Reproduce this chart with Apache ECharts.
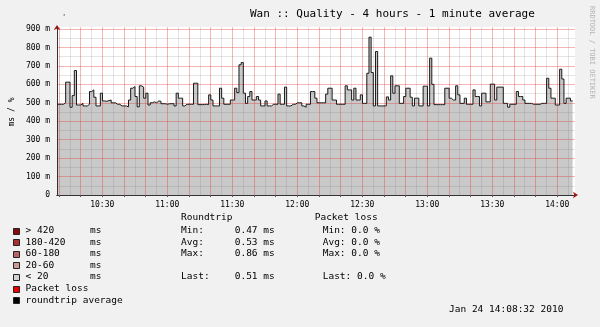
<!DOCTYPE html>
<html><head><meta charset="utf-8">
<script src="https://cdn.jsdelivr.net/npm/echarts@6/dist/echarts.min.js"></script>
<style>html,body{margin:0;padding:0;background:#f1f1f1}#c{width:600px;height:327px}</style>
</head><body><div id="c"></div>
<script>
// ---------- data ----------
const chartTitle = 'Wan :: Quality - 4 hours - 1 minute average';
const startMinute = 609.1;   // 10:09:06, first 1-minute sample
const endMinute = 848.2;     // right edge of time axis
// roundtrip average, ms, one value per minute
const rtt = [
 0.492,0.492,0.492,0.500,0.612,0.612,0.476,0.539,0.675,0.488,
 0.488,0.497,0.483,0.483,0.492,0.561,0.570,0.530,0.483,0.483,
 0.552,0.510,0.508,0.512,0.515,0.500,0.500,0.492,0.492,0.483,
 0.483,0.483,0.478,0.515,0.579,0.588,0.534,0.478,0.592,0.585,
 0.525,0.552,0.488,0.500,0.505,0.500,0.510,0.508,0.495,0.495,
 0.492,0.495,0.495,0.495,0.483,0.552,0.525,0.525,0.483,0.492,
 0.492,0.492,0.492,0.606,0.606,0.490,0.490,0.490,0.492,0.490,
 0.543,0.515,0.483,0.483,0.483,0.579,0.525,0.492,0.492,0.492,
 0.515,0.515,0.579,0.555,0.706,0.718,0.552,0.497,0.534,0.561,
 0.515,0.515,0.534,0.515,0.483,0.483,0.510,0.483,0.483,0.492,
 0.492,0.492,0.547,0.492,0.492,0.585,0.483,0.483,0.492,0.492,
 0.500,0.500,0.500,0.483,0.476,0.492,0.492,0.561,0.561,0.525,
 0.500,0.500,0.500,0.500,0.547,0.579,0.579,0.515,0.515,0.492,
 0.492,0.492,0.492,0.592,0.570,0.570,0.515,0.579,0.515,0.515,
 0.543,0.497,0.497,0.660,0.856,0.664,0.483,0.778,0.483,0.483,
 0.483,0.483,0.532,0.515,0.646,0.552,0.592,0.592,0.497,0.497,
 0.534,0.579,0.579,0.530,0.483,0.525,0.525,0.483,0.483,0.590,
 0.590,0.483,0.742,0.600,0.490,0.490,0.490,0.490,0.490,0.579,
 0.579,0.525,0.515,0.515,0.592,0.543,0.497,0.497,0.525,0.492,
 0.492,0.492,0.570,0.534,0.534,0.483,0.552,0.552,0.505,0.505,
 0.601,0.601,0.515,0.585,0.585,0.585,0.497,0.497,0.476,0.492,
 0.492,0.492,0.561,0.534,0.534,0.515,0.497,0.497,0.497,0.492,
 0.492,0.492,0.492,0.497,0.497,0.497,0.633,0.579,0.525,0.525,
 0.488,0.488,0.682,0.629,0.497,0.525,0.525,0.510,0.510
];
const xTickLabels = ['10:30','11:00','11:30','12:00','12:30','13:00','13:30','14:00'];
const yTickValues = [0,0.1,0.2,0.3,0.4,0.5,0.6,0.7,0.8,0.9];
const yTickLabels = ['0','100 m','200 m','300 m','400 m','500 m','600 m','700 m','800 m','900 m'];
const yMax = 0.911;
const legendLabels = ['> 420','180-420','60-180','20-60','< 20','Packet loss','roundtrip average'];
const legendUnits = ['ms','ms','ms','ms','ms','',''];
const statNames = ['Min:','Avg:','Max:','Last:'];
const rttStats = [0.47,0.53,0.86,0.51];
const lossStats = [0.0,0.0,0.0,0.0];
const footerDate = 'Jan 24 14:08:32 2010';
const sideText = 'RRDTOOL / TOBI OETIKER';
const axisName = 'ms / %';

// ---------- style ----------
const FONT = '"DejaVu Sans Mono", monospace';
const legendColors = ['#8c0a0a','#a83232','#bb6464','#c99a9a','#d2d2d2','#ee0000','#000000'];
const MAJOR = 'rgba(225,60,60,0.38)';
const MINOR = 'rgba(120,120,120,0.2)';

const toMin = s => { const p = s.split(':'); return (+p[0]) * 60 + (+p[1]); };
const fmtMin = v => { const h = Math.floor(v / 60), m = Math.round(v - h * 60); return h + ':' + (m < 10 ? '0' : '') + m; };
const xLabelVals = xTickLabels.map(toMin);
const majorX = [], minorX = [];
for (let t = Math.ceil(startMinute / 5) * 5; t <= endMinute; t += 5) { (t % 10 === 0 ? majorX : minorX).push(t); }
const minorY = yTickValues.slice(0, -1).map(v => +(v + 0.05).toFixed(2));
const pts = rtt.map((v, i) => [startMinute + i, v]);

const G = [];
function txt(x, y, s, o) {
  o = o || {};
  G.push({ type: 'text', x: x, y: y, rotation: o.rot || 0, silent: true,
    style: { text: s, fill: o.color || '#000', fontSize: o.size || 9.5, fontFamily: FONT,
      align: o.align || 'left', verticalAlign: 'middle', textAlign: o.align || 'left', textVerticalAlign: 'middle' } });
}
txt(250, 14, chartTitle, { size: 11 });
txt(62, 17, "'", { size: 7 });
txt(591.5, 6, sideText, { size: 7, color: '#b4b4b4', rot: -Math.PI / 2 });
txt(12, 112, axisName, { size: 8, rot: Math.PI / 2, align: 'center' });
const row0 = 230.5, rowStep = 11.6;
legendLabels.forEach((lab, i) => {
  const y = row0 + i * rowStep;
  G.push({ type: 'rect', silent: true, shape: { x: 13.5, y: Math.round(y - 3) + 0.5, width: 6, height: 6 },
    style: { fill: legendColors[i], stroke: '#222', lineWidth: 1 } });
  txt(25.5, y, lab);
  if (legendUnits[i]) txt(90, y, legendUnits[i]);
});
txt(181, 217.3, 'Roundtrip');
txt(314.7, 217.3, 'Packet loss');
const statRows = [0, 1, 2, 4];
statNames.forEach((n, k) => {
  const y = row0 + statRows[k] * rowStep;
  txt(181, y, n);
  txt(234.7, y, rttStats[k].toFixed(2) + ' ms');
  txt(322.7, y, n + ' ' + lossStats[k].toFixed(1) + ' %');
});
txt(449, 310, footerDate);

const GRID = { left: 57, right: 25, top: 27, bottom: 132 };
const chart = echarts.init(document.getElementById('c'), null, { renderer: 'canvas' });
chart.setOption({
  animation: false,
  backgroundColor: '#f1f1f1',
  grid: Object.assign({ show: true, backgroundColor: '#ffffff', borderWidth: 0, containLabel: false, outerBoundsMode: 'none' }, GRID),
  xAxis: [
    { type: 'value', min: startMinute, max: endMinute, position: 'bottom', z: 3,
      axisLine: { show: true, onZero: false, lineStyle: { color: '#333', width: 1 } },
      axisTick: { show: true, customValues: majorX, length: 2, inside: false, lineStyle: { color: '#555' } },
      axisLabel: { customValues: xLabelVals, formatter: v => fmtMin(v), fontSize: 8, fontFamily: FONT, color: '#000', margin: 6 },
      splitLine: { show: true, lineStyle: { color: MAJOR, width: 1 } } },
    { type: 'value', min: startMinute, max: endMinute, position: 'top', z: 2,
      axisLine: { show: false }, axisLabel: { show: false },
      axisTick: { show: false, customValues: minorX },
      splitLine: { show: true, lineStyle: { color: MINOR, width: 1 } } },
    { type: 'value', min: startMinute, max: endMinute, position: 'bottom', z: 2.5,
      axisLine: { show: true, onZero: false, symbol: ['none', 'arrow'], symbolSize: [5, 5], symbolOffset: [0, 3], lineStyle: { color: '#b01010', width: 1 } },
      axisLabel: { show: false }, axisTick: { show: false }, splitLine: { show: false } }
  ],
  yAxis: [
    { type: 'value', min: 0, max: yMax, position: 'left', z: 3,
      axisLine: { show: true, onZero: false, lineStyle: { color: '#333', width: 1 } },
      axisTick: { show: false, customValues: yTickValues },
      axisLabel: { customValues: yTickValues, formatter: v => yTickLabels[Math.round(v * 10)], fontSize: 8, fontFamily: FONT, color: '#000', margin: 7 },
      splitLine: { show: true, lineStyle: { color: MAJOR, width: 1 } } },
    { type: 'value', min: 0, max: yMax, position: 'right', z: 2,
      axisLine: { show: false }, axisLabel: { show: false },
      axisTick: { show: false, customValues: minorY },
      splitLine: { show: true, lineStyle: { color: MINOR, width: 1 } } },
    { type: 'value', min: 0, max: yMax, position: 'left', z: 2.5,
      axisLine: { show: true, onZero: false, symbol: ['none', 'arrow'], symbolSize: [5, 5], symbolOffset: [0, 2], lineStyle: { color: '#b01010', width: 1 } },
      axisLabel: { show: false }, axisTick: { show: false }, splitLine: { show: false } }
  ],
  series: [
    { type: 'line', name: 'fill', xAxisIndex: 0, yAxisIndex: 0, step: 'end', data: pts, showSymbol: false, silent: true, z: 1,
      lineStyle: { opacity: 0 }, areaStyle: { color: '#c9c9c9', opacity: 1 } },
    { type: 'line', name: 'roundtrip average', xAxisIndex: 0, yAxisIndex: 0, step: 'end', data: pts, showSymbol: false, silent: true, z: 4,
      lineStyle: { color: '#1a1a1a', width: 1 } }
  ],
  graphic: G
});
</script></body></html>
